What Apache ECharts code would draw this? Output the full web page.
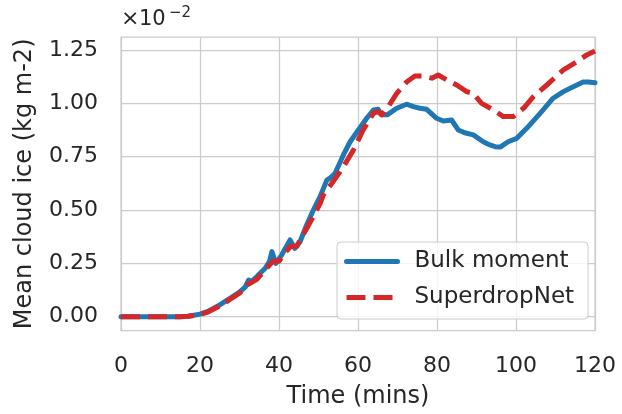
<!DOCTYPE html>
<html>
<head>
<meta charset="utf-8">
<script src="https://cdn.jsdelivr.net/npm/echarts@6/dist/echarts.min.js"></script>
<style>html,body{margin:0;padding:0;background:#fff}#c{width:622px;height:414px}</style>
</head>
<body>
<div id="c"></div>
<script>
// Time (mins) and mean cloud ice (x1e-2 kg m-2)
const bulkTime = [0, 15, 17, 20, 22, 25, 27.5, 30, 31.5, 32.3, 33, 34.4, 36.5, 37.6, 38.2, 39.2, 40.7, 42.8, 44, 45.3, 47, 48.7, 50.4, 52.1, 52.9, 54.2, 56.3, 58, 60.1, 62.2, 63.9, 65.1, 66, 67.4, 69.8, 72.3, 74, 75.7, 77.4, 79.9, 81.6, 83.7, 85.4, 87, 89.2, 91.7, 93.4, 94.7, 96, 98, 100.2, 102.7, 106.1, 109.4, 112, 114.5, 117, 118.3, 120];
const bulkValues = [0, 0, 0.002, 0.012, 0.025, 0.055, 0.085, 0.115, 0.14, 0.172, 0.165, 0.188, 0.227, 0.26, 0.305, 0.25, 0.29, 0.36, 0.32, 0.35, 0.43, 0.5, 0.563, 0.64, 0.649, 0.672, 0.758, 0.82, 0.875, 0.93, 0.969, 0.972, 0.946, 0.946, 0.977, 0.996, 0.985, 0.977, 0.972, 0.93, 0.917, 0.922, 0.875, 0.862, 0.852, 0.82, 0.805, 0.797, 0.795, 0.82, 0.836, 0.883, 0.953, 1.024, 1.055, 1.078, 1.1, 1.1, 1.097];
const sdnTime = [0, 15, 17, 20, 22, 25, 27.5, 30, 32, 34.4, 36.5, 38.5, 40, 41.5, 43, 44.5, 46, 47.5, 48.7, 50.4, 51.2, 53.7, 56.3, 58.8, 61.3, 63.9, 65, 66, 67.7, 69.8, 72.3, 74.4, 76.5, 78.7, 80.3, 82.5, 85, 87.5, 89.1, 91.3, 94.3, 96.8, 99.3, 101.9, 104.4, 107.8, 112, 115.4, 117.9, 120];
const sdnValues = [0, 0, 0.002, 0.01, 0.022, 0.05, 0.08, 0.11, 0.15, 0.175, 0.22, 0.26, 0.26, 0.3, 0.33, 0.33, 0.38, 0.43, 0.47, 0.53, 0.57, 0.633, 0.703, 0.78, 0.875, 0.953, 0.962, 0.946, 0.985, 1.047, 1.1, 1.128, 1.128, 1.118, 1.133, 1.11, 1.086, 1.055, 1.047, 1, 0.969, 0.938, 0.938, 0.977, 1.031, 1.086, 1.157, 1.195, 1.227, 1.245];
const xTicks = [0, 20, 40, 60, 80, 100, 120];
const yTicks = [0, 0.25, 0.5, 0.75, 1.0, 1.25];
const seriesNames = ['Bulk moment', 'SuperdropNet'];

const txt = '#262626';
const font = 'DejaVu Sans';
const blue = '#1f77b4', red = '#d62728';
const chart = echarts.init(document.getElementById('c'), null, {renderer: 'canvas'});
const zip = (a, b) => a.map((t, i) => [t, b[i]]);
chart.setOption({
  animation: false,
  backgroundColor: '#ffffff',
  textStyle: {fontFamily: font, color: txt},
  grid: {left: 121, right: 27, top: 37, bottom: 83.3, containLabel: false, outerBoundsMode: 'none',
         show: true, borderColor: '#cccccc', borderWidth: 1.25, backgroundColor: 'transparent'},
  graphic: [
    {type: 'text', left: 121, top: 8, style: {text: '×', font: '22px "DejaVu Sans"', fill: txt}},
    {type: 'text', left: 139, top: 9, style: {text: '10', font: '21px "DejaVu Sans"', fill: txt, letterSpacing: 3}},
    {type: 'text', left: 169, top: 6, style: {text: '−2', font: '15px "DejaVu Sans"', fill: txt}}
  ],
  xAxis: {
    type: 'value', min: 0, max: 120, interval: 20,
    name: 'Time (mins)', nameLocation: 'middle', nameGap: 54,
    nameTextStyle: {fontSize: 24, color: txt, fontFamily: font},
    axisLine: {show: false}, axisTick: {show: false},
    axisLabel: {fontSize: 22, color: txt, margin: 25, fontFamily: font,
                customValues: xTicks},
    splitLine: {show: true, lineStyle: {color: '#cccccc', width: 1.25}}
  },
  yAxis: {
    type: 'value', min: -0.0656, max: 1.311,
    name: 'Mean cloud ice (kg m-2)', nameLocation: 'middle', nameGap: 84,
    nameTextStyle: {fontSize: 24, color: txt, fontFamily: font},
    axisLine: {show: false},
    axisTick: {show: false, customValues: yTicks},
    axisLabel: {fontSize: 22, color: txt, margin: 23, fontFamily: font,
                customValues: yTicks, formatter: v => v.toFixed(2)},
    splitLine: {show: true, lineStyle: {color: '#cccccc', width: 1.25}}
  },
  legend: {
    left: 337, top: 242, orient: 'vertical',
    data: [
      {name: seriesNames[0], itemStyle: {opacity: 0}, lineStyle: {color: blue, width: 5, type: 'solid', cap: 'round'}},
      {name: seriesNames[1], itemStyle: {opacity: 0}, lineStyle: {color: red, width: 5, type: [19, 8], cap: 'butt'}}
    ],
    itemWidth: 51, itemHeight: 22, itemGap: 13,
    padding: [8, 14, 10, 7],
    backgroundColor: 'rgba(255,255,255,0.8)', borderColor: '#cccccc', borderWidth: 1, borderRadius: 4,
    textStyle: {fontSize: 23, color: txt, fontFamily: font, padding: [0, 0, 0, 12]}
  },
  series: [
    {name: seriesNames[0], type: 'line', data: zip(bulkTime, bulkValues), symbol: 'none', showSymbol: false,
     lineStyle: {color: blue, width: 5, cap: 'round', join: 'round'}, itemStyle: {color: blue}},
    {name: seriesNames[1], type: 'line', data: zip(sdnTime, sdnValues), symbol: 'none', showSymbol: false,
     lineStyle: {color: red, width: 5, type: [19, 8], cap: 'butt', join: 'round'}, itemStyle: {color: red}}
  ]
});
</script>
</body>
</html>
